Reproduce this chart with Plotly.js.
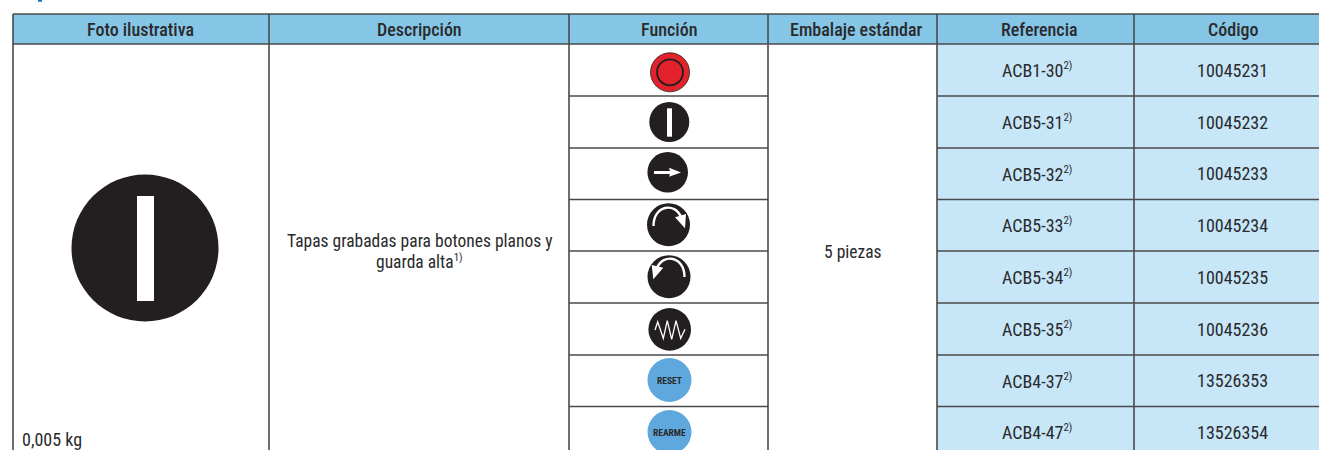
<!DOCTYPE html>
<html><head><meta charset="utf-8">
<script src="https://cdn.plot.ly/plotly-3.0.1.min.js"></script>
<style>html,body{margin:0;padding:0;background:#fff}#c{width:1319px;height:450px}
.annotation-text{font-stretch:75%;}</style>
</head><body><div id="c"></div>
<script>
const headers = ["Foto ilustrativa","Descripción","Función","Embalaje estándar","Referencia","Código"];
const referencias = ["ACB1-30","ACB5-31","ACB5-32","ACB5-33","ACB5-34","ACB5-35","ACB4-37","ACB4-47"];
const codigos = ["10045231","10045232","10045233","10045234","10045235","10045236","13526353","13526354"];
const descripcion = ["Tapas grabadas para botones planos y","guarda alta"];
const nota1 = "1)", nota2 = "2)";
const embalaje = "5 piezas";
const peso = "0,005 kg";
const colX = [13,269,569,768,937,1134,1331];
const headerX = [140.5,419,668.5,856.5,1039.5,1232.5];
const rowY = [14,44,96,148,199.5,251,303,355,406.5,458];
const FONT = 'Roboto,"Liberation Sans",Arial,sans-serif';
const DARK = '#231f20', LINE = '#4a4a4c';
const shapes = [];
const ann = [];
function rect(x0,y0,x1,y1,fill,line,w){shapes.push({type:'rect',x0,y0,x1,y1,fillcolor:fill,line:{color:line||fill,width:line?(w||1.5):0},layer:'above'});}
function circ(cx,cy,r,fill,line,w){shapes.push({type:'circle',x0:cx-r,x1:cx+r,y0:cy-r,y1:cy+r,fillcolor:fill,line:{color:line||fill,width:line?(w||1):0},layer:'above'});}
function seg(x0,y0,x1,y1,c,w){shapes.push({type:'line',x0,y0,x1,y1,line:{color:c||LINE,width:w||1.6},layer:'above'});}
function path(d,fill,line,w){shapes.push({type:'path',path:d,fillcolor:fill||'rgba(0,0,0,0)',line:{color:line||'rgba(0,0,0,0)',width:line?(w||1):0},layer:'above'});}
function txt(x,y,text,size,opt,weight){ann.push(Object.assign({x,y,text,xref:'x',yref:'y',showarrow:false,font:{family:FONT,size:size||18,color:'#2a2a2c',weight:weight||400},xanchor:'center',yanchor:'middle',align:'center'},opt||{}));}
function sup(n){return '<sup><span style="font-size:11px">'+n+'</span></sup>';}

rect(38,0,42,1.8,'#1b75bc');
rect(colX[0],rowY[0],1319,rowY[1],'#85c5e5');
rect(colX[4],rowY[1],1319,450,'#c7e6f8');
colX.slice(0,6).forEach(x=>seg(x,rowY[0],x,450));
seg(colX[0],rowY[0],1319,rowY[0]);
seg(colX[0],rowY[1],1319,rowY[1]);
rowY.slice(2,9).forEach(y=>seg(colX[2],y,colX[3],y));
rowY.slice(2,9).forEach(y=>seg(colX[4],y,1319,y));

headers.forEach((h,i)=>{txt(headerX[i],29.5,h,18,null,500);});
referencias.forEach((r,i)=>{const y=(rowY[i+1]+rowY[i+2])/2;
  txt(1036.5,y,r+sup(nota2),18);
  txt(1232,y,codigos[i],18);});
txt(419.5,241,descripcion[0],17.5);
txt(419.5,261,descripcion[1]+sup(nota1),17.5);
txt(853,252,embalaje,17.5);
txt(20,439.5,peso,18,{xanchor:'left'});

// photo
circ(145,248,73.5,DARK);
rect(137,196,154,301,'#ffffff');
// red
circ(670,72.3,19.5,'#e3232c',DARK,0.8);
circ(670,72.3,13,'rgba(0,0,0,0)',DARK,1.8);
// I
circ(669.3,122,20,DARK);
rect(667,108.3,672,136.7,'#ffffff');
// arrow
circ(667.7,172.3,20.3,DARK);
path('M654,171 L670,171 L669,167.7 L681,172.5 L669,176.7 L670,174 L654,174 Z','#ffffff');
// cw
circ(668.5,224.7,21.5,DARK);
path('M653.5,226 C653.5,205 675,202 681,217','rgba(0,0,0,0)','#ffffff',2.4);
path('M675,217.3 L686,214 L685,228.3 Z','#ffffff');
// ccw
circ(669,276.7,21.5,DARK);
path('M684.5,277 C684.5,256 663,253 657,268','rgba(0,0,0,0)','#ffffff',2.4);
path('M663.3,267.7 L651.7,265 L653.3,279.3 Z','#ffffff');
// wave
circ(669.7,329.4,21.3,DARK);
path('M655,330 L657.7,321.7 L663.3,338.3 L667.3,320.7 L671.7,339.3 L676,320.7 L680.7,338.3 L685,329.3','rgba(0,0,0,0)','#ffffff',1.3);
// reset
circ(669.5,380,22,'#5fa8de');
txt(669.5,380,'RESET',9.5,null,700);
circ(669.5,432,22,'#5fa8de');
txt(669.5,432,'REARME',9.5,null,700);

const layout = {width:1319,height:450,margin:{l:0,r:0,t:0,b:0},paper_bgcolor:'#fff',plot_bgcolor:'#fff',
  xaxis:{range:[0,1319],visible:false,fixedrange:true},
  yaxis:{range:[450,0],visible:false,fixedrange:true},
  shapes,annotations:ann,showlegend:false};
Plotly.newPlot('c',[{type:'scatter',mode:'none',x:[0,1319],y:[0,450],hoverinfo:'skip'}],layout,{displayModeBar:false,staticPlot:true});
</script></body></html>
